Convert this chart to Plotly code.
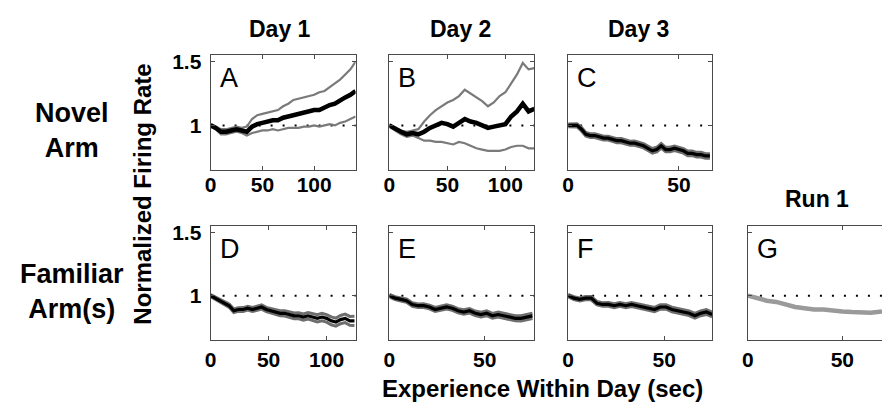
import plotly.graph_objects as go

W, H = 882, 403

# ---------------- data ----------------
# Panel A: Day 1, novel arm
a_x = [0, 5, 10, 15, 20, 25, 30, 35, 40, 45, 50, 55, 60, 65, 70, 75, 80, 85, 90, 95, 100,
       105, 110, 115, 120, 125, 130, 135, 140]
a_mean = [1.00, 0.98, 0.95, 0.95, 0.96, 0.97, 0.96, 0.95, 0.99, 1.01, 1.02, 1.03, 1.04, 1.04,
          1.06, 1.07, 1.08, 1.09, 1.10, 1.11, 1.12, 1.12, 1.14, 1.16, 1.17, 1.20, 1.22, 1.24, 1.27]
a_upper = [1.01, 0.99, 0.97, 0.97, 0.98, 0.99, 0.98, 0.99, 1.05, 1.08, 1.09, 1.10, 1.11, 1.12,
           1.15, 1.17, 1.20, 1.21, 1.22, 1.23, 1.24, 1.26, 1.27, 1.30, 1.33, 1.36, 1.40, 1.44, 1.50]
a_lower = [0.99, 0.97, 0.93, 0.93, 0.94, 0.95, 0.94, 0.92, 0.94, 0.95, 0.96, 0.96, 0.97, 0.96,
           0.97, 0.98, 0.98, 0.98, 0.99, 0.99, 1.00, 0.99, 1.00, 1.01, 1.00, 1.02, 1.03, 1.05, 1.07]

# Panel B: Day 2, novel arm
b_x = [0, 5, 10, 15, 20, 25, 30, 35, 40, 45, 50, 55, 60, 65, 70, 75, 80, 85, 90, 95, 100,
       105, 110, 115, 120, 125]
b_mean = [1.00, 0.97, 0.95, 0.93, 0.94, 0.93, 0.95, 0.98, 1.00, 1.02, 1.01, 0.99, 1.02, 1.05,
          1.03, 1.02, 1.00, 0.98, 0.99, 1.00, 1.01, 1.07, 1.11, 1.17, 1.11, 1.13]
b_upper = [1.01, 0.98, 0.96, 0.95, 0.96, 0.97, 1.03, 1.08, 1.12, 1.15, 1.18, 1.20, 1.23, 1.28,
           1.25, 1.22, 1.19, 1.15, 1.18, 1.23, 1.26, 1.33, 1.40, 1.49, 1.44, 1.45]
b_lower = [0.99, 0.96, 0.93, 0.91, 0.92, 0.90, 0.88, 0.88, 0.87, 0.87, 0.86, 0.85, 0.87, 0.86,
           0.84, 0.82, 0.81, 0.80, 0.80, 0.80, 0.81, 0.83, 0.84, 0.84, 0.82, 0.82]

# Panel C: Day 3, novel arm
c_x = [0, 2, 4, 6, 8, 10, 12, 14, 16, 18, 20, 22, 24, 26, 28, 30, 32, 34, 36, 38, 40, 42, 44,
       46, 48, 50, 52, 54, 56, 58, 60, 62, 64]
c_mean = [1.00, 1.00, 1.00, 0.97, 0.93, 0.92, 0.92, 0.91, 0.90, 0.90, 0.89, 0.88, 0.88, 0.87,
          0.86, 0.86, 0.85, 0.84, 0.82, 0.80, 0.81, 0.84, 0.81, 0.81, 0.82, 0.81, 0.80, 0.78,
          0.78, 0.77, 0.77, 0.76, 0.76]
c_sem = [0.010, 0.012, 0.012, 0.014, 0.015, 0.015, 0.015, 0.015, 0.015, 0.015, 0.016, 0.016,
         0.016, 0.016, 0.016, 0.017, 0.017, 0.017, 0.017, 0.018, 0.018, 0.018, 0.018, 0.018,
         0.018, 0.018, 0.018, 0.018, 0.018, 0.018, 0.018, 0.018, 0.018]

# Panel D: Day 1, familiar arm(s)
d_x = [0, 4, 8, 12, 16, 20, 24, 28, 32, 36, 40, 44, 48, 52, 56, 60, 64, 68, 72, 76, 80, 84,
       88, 92, 96, 100, 104, 108, 112, 116, 120, 124]
d_mean = [1.00, 0.98, 0.96, 0.94, 0.92, 0.88, 0.89, 0.89, 0.90, 0.89, 0.90, 0.91, 0.89, 0.88,
          0.87, 0.86, 0.86, 0.85, 0.84, 0.84, 0.83, 0.84, 0.83, 0.82, 0.83, 0.82, 0.80, 0.79,
          0.81, 0.82, 0.80, 0.80]
d_sem = [0.008, 0.010, 0.012, 0.012, 0.013, 0.014, 0.014, 0.015, 0.015, 0.016, 0.016, 0.017,
         0.017, 0.018, 0.019, 0.020, 0.021, 0.022, 0.023, 0.024, 0.025, 0.026, 0.027, 0.028,
         0.029, 0.030, 0.031, 0.032, 0.033, 0.034, 0.035, 0.036]

# Panel E: Day 2, familiar arm(s)
e_x = [0, 3, 6, 9, 12, 15, 18, 21, 24, 27, 30, 33, 36, 39, 42, 45, 48, 51, 54, 57, 60, 63, 66,
       69, 72, 75]
e_mean = [1.00, 0.98, 0.97, 0.96, 0.93, 0.92, 0.92, 0.91, 0.89, 0.90, 0.91, 0.90, 0.88, 0.87,
          0.88, 0.86, 0.85, 0.86, 0.84, 0.85, 0.84, 0.83, 0.82, 0.82, 0.83, 0.84]
e_sem = [0.010, 0.012, 0.012, 0.013, 0.014, 0.014, 0.015, 0.015, 0.016, 0.016, 0.017, 0.017,
         0.017, 0.018, 0.018, 0.018, 0.019, 0.019, 0.019, 0.020, 0.020, 0.020, 0.020, 0.021,
         0.021, 0.021]

# Panel F: Day 3, familiar arm(s)
f_x = [0, 3, 6, 9, 12, 15, 18, 21, 24, 27, 30, 33, 36, 39, 42, 45, 48, 51, 54, 57, 60, 63, 66,
       69, 72, 75]
f_mean = [1.00, 0.98, 0.97, 0.98, 0.98, 0.94, 0.93, 0.93, 0.92, 0.93, 0.92, 0.93, 0.92, 0.91,
          0.90, 0.89, 0.91, 0.91, 0.89, 0.88, 0.87, 0.86, 0.84, 0.86, 0.87, 0.85]
f_sem = [0.010, 0.012, 0.012, 0.013, 0.013, 0.014, 0.014, 0.015, 0.015, 0.015, 0.016, 0.016,
         0.016, 0.016, 0.017, 0.017, 0.017, 0.017, 0.018, 0.018, 0.018, 0.018, 0.019, 0.019,
         0.019, 0.019]

# Panel G: Run 1, familiar arm(s)
g_x = [0, 5, 10, 15, 20, 25, 30, 35, 40, 45, 50, 55, 60, 65, 71]
g_mean = [1.00, 0.98, 0.96, 0.95, 0.93, 0.91, 0.90, 0.89, 0.89, 0.88, 0.875, 0.87, 0.865,
          0.865, 0.875]

panel_letters = ["A", "B", "C", "D", "E", "F", "G"]
column_titles = ["Day 1", "Day 2", "Day 3", "Run 1"]
row_labels = ["Novel<br>Arm", "Familiar<br>Arm(s)"]
y_label = "Normalized Firing Rate"
x_label = "Experience Within Day (sec)"
y_ticks = [1, 1.5]
y_ticktext = ["1", "1.5"]

# ---------------- layout helpers ----------------
FONT = "Liberation Sans, Arial, Helvetica, sans-serif"
AXC = "#4a4a4a"


def fx(px):
    return px / W


def fy(py):
    return 1 - py / H


upper_row = (51, 167)
lower_row = (224, 339)
cols = [(206, 352), (386, 532), (566, 711), (747, 882)]

panels = [
    dict(x=a_x, mean=a_mean, up=a_upper, lo=a_lower, col=0, row=upper_row, rng=[0, 140],
         ticks=[0, 50, 100], style="ci"),
    dict(x=b_x, mean=b_mean, up=b_upper, lo=b_lower, col=1, row=upper_row, rng=[0, 125],
         ticks=[0, 50, 100], style="ci"),
    dict(x=c_x, mean=c_mean, up=[m + s for m, s in zip(c_mean, c_sem)],
         lo=[m - s for m, s in zip(c_mean, c_sem)], col=2, row=upper_row, rng=[0, 65],
         ticks=[0, 50], style="halo"),
    dict(x=d_x, mean=d_mean, up=[m + s for m, s in zip(d_mean, d_sem)],
         lo=[m - s for m, s in zip(d_mean, d_sem)], col=0, row=lower_row, rng=[0, 125],
         ticks=[0, 50, 100], style="halo"),
    dict(x=e_x, mean=e_mean, up=[m + s for m, s in zip(e_mean, e_sem)],
         lo=[m - s for m, s in zip(e_mean, e_sem)], col=1, row=lower_row, rng=[0, 76],
         ticks=[0, 50], style="halo"),
    dict(x=f_x, mean=f_mean, up=[m + s for m, s in zip(f_mean, f_sem)],
         lo=[m - s for m, s in zip(f_mean, f_sem)], col=2, row=lower_row, rng=[0, 75],
         ticks=[0, 50], style="halo"),
    dict(x=g_x, mean=g_mean, up=None, lo=None, col=3, row=lower_row, rng=[0, 71],
         ticks=[0, 50], style="gray"),
]

fig = go.Figure()
shapes = []
annotations = []
layout_axes = {}

for i, p in enumerate(panels):
    n = "" if i == 0 else str(i + 1)
    xa, ya = "x" + n, "y" + n
    if p["style"] == "ci":
        for arr in (p["up"], p["lo"]):
            fig.add_trace(go.Scatter(x=p["x"], y=arr, xaxis=xa, yaxis=ya, mode="lines",
                                     line=dict(color="#7a7a7a", width=2.2), hoverinfo="skip"))
        fig.add_trace(go.Scatter(x=p["x"], y=p["mean"], xaxis=xa, yaxis=ya, mode="lines",
                                 line=dict(color="black", width=4.5)))
    elif p["style"] == "halo":
        for arr in (p["up"], p["lo"]):
            fig.add_trace(go.Scatter(x=p["x"], y=arr, xaxis=xa, yaxis=ya, mode="lines",
                                     line=dict(color="#6e6e6e", width=3), hoverinfo="skip"))
        fig.add_trace(go.Scatter(x=p["x"], y=p["mean"], xaxis=xa, yaxis=ya, mode="lines",
                                 line=dict(color="black", width=3.2)))
    else:
        fig.add_trace(go.Scatter(x=p["x"], y=p["mean"], xaxis=xa, yaxis=ya, mode="lines",
                                 line=dict(color="#9a9a9a", width=4.5)))

    x0, x1 = cols[p["col"]]
    top, bot = p["row"]
    is_g = p["style"] == "gray"
    first_col = p["col"] == 0
    is_lower = p["row"] == lower_row

    layout_axes["xaxis" + n] = dict(
        domain=[fx(x0), fx(x1)], range=p["rng"], anchor=ya, tickvals=p["ticks"],
        showline=True, linecolor=AXC, linewidth=1, mirror="ticks", ticks="inside",
        ticklen=4, tickcolor=AXC, showgrid=False, zeroline=False,
        tickfont=dict(family=FONT, size=21, color="black", weight="bold"),
        ticklabelstandoff=1 if is_lower else -4,
    )
    layout_axes["yaxis" + n] = dict(
        domain=[fy(bot), fy(top)], range=[0.65, 1.55], anchor=xa, tickvals=y_ticks,
        ticktext=y_ticktext, showticklabels=first_col,
        showline=True, linecolor=AXC, linewidth=1, mirror=False if is_g else "ticks",
        ticks="inside", ticklen=4, tickcolor=AXC, showgrid=False, zeroline=False,
        tickfont=dict(family=FONT, size=21, color="black", weight="bold"),
        ticklabelstandoff=4,
    )

    # dotted reference line at 1
    shapes.append(dict(type="line", xref=xa + " domain", yref=ya, x0=0, x1=1, y0=1, y1=1,
                       line=dict(color="black", width=2, dash="2px,10px"), layer="below"))

    # panel letter
    annotations.append(dict(text=panel_letters[i], xref="paper", yref="paper",
                            x=fx(x0 + 7), y=fy(top + 23), xanchor="left", yanchor="middle",
                            showarrow=False, font=dict(family=FONT, size=27, color="black")))

# column titles
title_pos = [(276, 24), (458, 24), (637, 24), (817, 196)]
for t, (px, py) in zip(column_titles, title_pos):
    annotations.append(dict(text=t, xref="paper", yref="paper", x=fx(px), y=fy(py),
                            xanchor="center", yanchor="middle", showarrow=False,
                            font=dict(family=FONT, size=23, color="black", weight="bold")))

# row labels
for t, py in zip(row_labels, [127, 290]):
    annotations.append(dict(text=t, xref="paper", yref="paper", x=fx(66), y=fy(py),
                            xanchor="center", yanchor="middle", showarrow=False,
                            font=dict(family=FONT, size=27, color="black", weight="bold")))

# axis labels
annotations.append(dict(text=y_label, xref="paper", yref="paper", x=fx(138), y=fy(192),
                        xanchor="center", yanchor="middle", textangle=-90, showarrow=False,
                        font=dict(family=FONT, size=24, color="black", weight="bold")))
annotations.append(dict(text=x_label, xref="paper", yref="paper", x=fx(540), y=fy(388),
                        xanchor="center", yanchor="middle", showarrow=False,
                        font=dict(family=FONT, size=24, color="black", weight="bold")))

fig.update_layout(
    width=W, height=H, margin=dict(l=0, r=0, t=0, b=0),
    paper_bgcolor="white", plot_bgcolor="white", showlegend=False,
    shapes=shapes, annotations=annotations, **layout_axes,
)

fig.write_html("out.html")
